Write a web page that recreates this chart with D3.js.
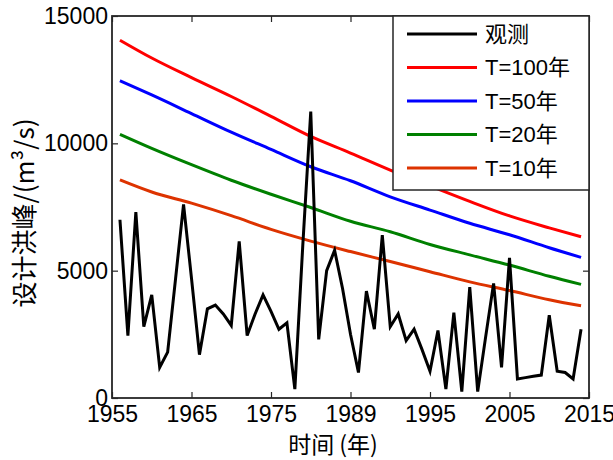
<!DOCTYPE html>
<html>
<head>
<meta charset="utf-8">
<script src="https://cdn.jsdelivr.net/npm/d3@7"></script>
<style>
body { margin: 0; background: #fff; }
text { font-family: "Liberation Sans", Arial, "Noto Sans CJK SC", sans-serif; fill: #000; }
</style>
</head>
<body>
<svg id="chart" width="613" height="460"></svg>
<script>
// observed annual flood peaks, one value per year from 1956
const obsStart = 1956;
const observed = [
    7000, 2450, 7300, 2800, 4050, 1200, 1800, 4700, 7600, 4700,
    1700, 3500, 3650, 3300, 2850, 6150, 2450, 3300, 4050, 3400,
    2700, 2950, 350, 6000, 11250, 2300, 5000, 5800, 4300, 2500,
    1000, 4200, 2700, 6400, 2800, 3300, 2250, 2700, 1900, 1050,
    2650, 350, 3350, 250, 4350, 250, 2400, 4500, 1200, 5500,
    750, 800, 850, 900, 3250, 1050, 1000, 750, 2700
];

// design floods read at a few years
const designYears = [1956, 1960, 1965, 1970, 1975, 1980, 1985, 1990, 1995, 2000, 2005, 2010, 2014];
const t100 = [14050, 13350, 12580, 11840, 11060, 10270, 9620, 8950, 8330, 7720, 7150, 6680, 6330];
const t50  = [12460, 11900, 11170, 10440, 9760, 9080, 8530, 7900, 7380, 6860, 6410, 5900, 5520];
const t20  = [10350, 9800, 9160, 8550, 8000, 7480, 6940, 6530, 6030, 5620, 5220, 4780, 4460];
const t10  = [8565, 8090, 7650, 7160, 6620, 6160, 5750, 5360, 4960, 4560, 4220, 3860, 3620];

const xTicks = [1955, 1965, 1975, 1985, 1995, 2005, 2015];
const xTickLabels = ["1955", "1965", "1975", "1989", "1995", "2005", "2015"];
const yTicks = [0, 5000, 10000, 15000];
const seriesNames = ["观测", "T=100年", "T=50年", "T=20年", "T=10年"];
const seriesColors = ["#000000", "#ff0000", "#0000ff", "#008000", "#dd3300"];

const svg = d3.select("#chart");
const plotLeft = 112, plotRight = 589, plotTop = 16, plotBottom = 398;

const x = d3.scaleLinear().domain([1955, 2015]).range([plotLeft, plotRight]);
const y = d3.scaleLinear().domain([0, 15000]).range([plotBottom, plotTop]);

const line = d3.line()
    .x(d => x(d[0]))
    .y(d => y(d[1]));

const smoothLine = d3.line()
    .curve(d3.curveMonotoneX)
    .x(d => x(d[0]))
    .y(d => y(d[1]));

// design curves
const designSeries = [t100, t50, t20, t10];
designSeries.forEach((vals, i) => {
    svg.append("path")
        .datum(designYears.map((yr, j) => [yr, vals[j]]))
        .attr("d", smoothLine)
        .attr("fill", "none")
        .attr("stroke", seriesColors[i + 1])
        .attr("stroke-width", 3);
});

// observed
svg.append("path")
    .datum(observed.map((v, i) => [obsStart + i, v]))
    .attr("d", line)
    .attr("fill", "none")
    .attr("stroke", seriesColors[0])
    .attr("stroke-width", 3);

// axes box with inward ticks
const axisColor = "#262626";
svg.append("g")
    .attr("transform", `translate(0,${plotBottom})`)
    .call(d3.axisBottom(x).tickValues(xTicks).tickSizeInner(-6).tickSizeOuter(0)
        .tickFormat((d, i) => xTickLabels[i]))
    .call(g => g.select(".domain").remove())
    .call(g => g.selectAll("line").attr("stroke", axisColor).attr("stroke-width", 1.2))
    .call(g => g.selectAll("text").attr("font-size", "23px").attr("dy", "0.71em").attr("y", 8));

svg.append("g")
    .attr("transform", `translate(0,${plotTop})`)
    .call(d3.axisTop(x).tickValues(xTicks).tickSizeInner(-6).tickSizeOuter(0).tickFormat(""))
    .call(g => g.select(".domain").remove())
    .call(g => g.selectAll("line").attr("stroke", axisColor).attr("stroke-width", 1.2));

svg.append("g")
    .attr("transform", `translate(${plotLeft},0)`)
    .call(d3.axisLeft(y).tickValues(yTicks).tickSizeInner(-6).tickSizeOuter(0)
        .tickFormat(d3.format("d")))
    .call(g => g.select(".domain").remove())
    .call(g => g.selectAll("line").attr("stroke", axisColor).attr("stroke-width", 1.2))
    .call(g => g.selectAll("text").attr("font-size", "23px").attr("x", -4));

svg.append("g")
    .attr("transform", `translate(${plotRight},0)`)
    .call(d3.axisRight(y).tickValues(yTicks).tickSizeInner(-6).tickSizeOuter(0).tickFormat(""))
    .call(g => g.select(".domain").remove())
    .call(g => g.selectAll("line").attr("stroke", axisColor).attr("stroke-width", 1.2));

svg.append("rect")
    .attr("x", plotLeft).attr("y", plotTop)
    .attr("width", plotRight - plotLeft).attr("height", plotBottom - plotTop)
    .attr("fill", "none")
    .attr("stroke", axisColor)
    .attr("stroke-width", 1.8);

// axis titles
svg.append("text")
    .attr("x", 333).attr("y", 453)
    .attr("text-anchor", "middle")
    .attr("font-size", "23px")
    .style("font-family", "'Noto Sans CJK SC', sans-serif")
    .text("时间 (年)");

svg.append("text")
    .attr("transform", "translate(34,213) rotate(-90)")
    .attr("text-anchor", "middle")
    .attr("font-size", "26px")
    .style("font-family", "'Noto Sans CJK SC', sans-serif")
    .text("设计洪峰/(m³/s)");

// legend
const legend = svg.append("g");
legend.append("rect")
    .attr("x", 393).attr("y", plotTop)
    .attr("width", plotRight - 393).attr("height", 174)
    .attr("fill", "#fff")
    .attr("stroke", axisColor)
    .attr("stroke-width", 1.5);

seriesNames.forEach((name, i) => {
    const ly = 34 + i * 33.5;
    legend.append("line")
        .attr("x1", 407).attr("x2", 477)
        .attr("y1", ly).attr("y2", ly)
        .attr("stroke", seriesColors[i])
        .attr("stroke-width", 3);
    legend.append("text")
        .attr("x", 485).attr("y", ly)
        .attr("dy", "0.36em")
        .attr("font-size", "22px")
        .text(name);
});
</script>
</body>
</html>
